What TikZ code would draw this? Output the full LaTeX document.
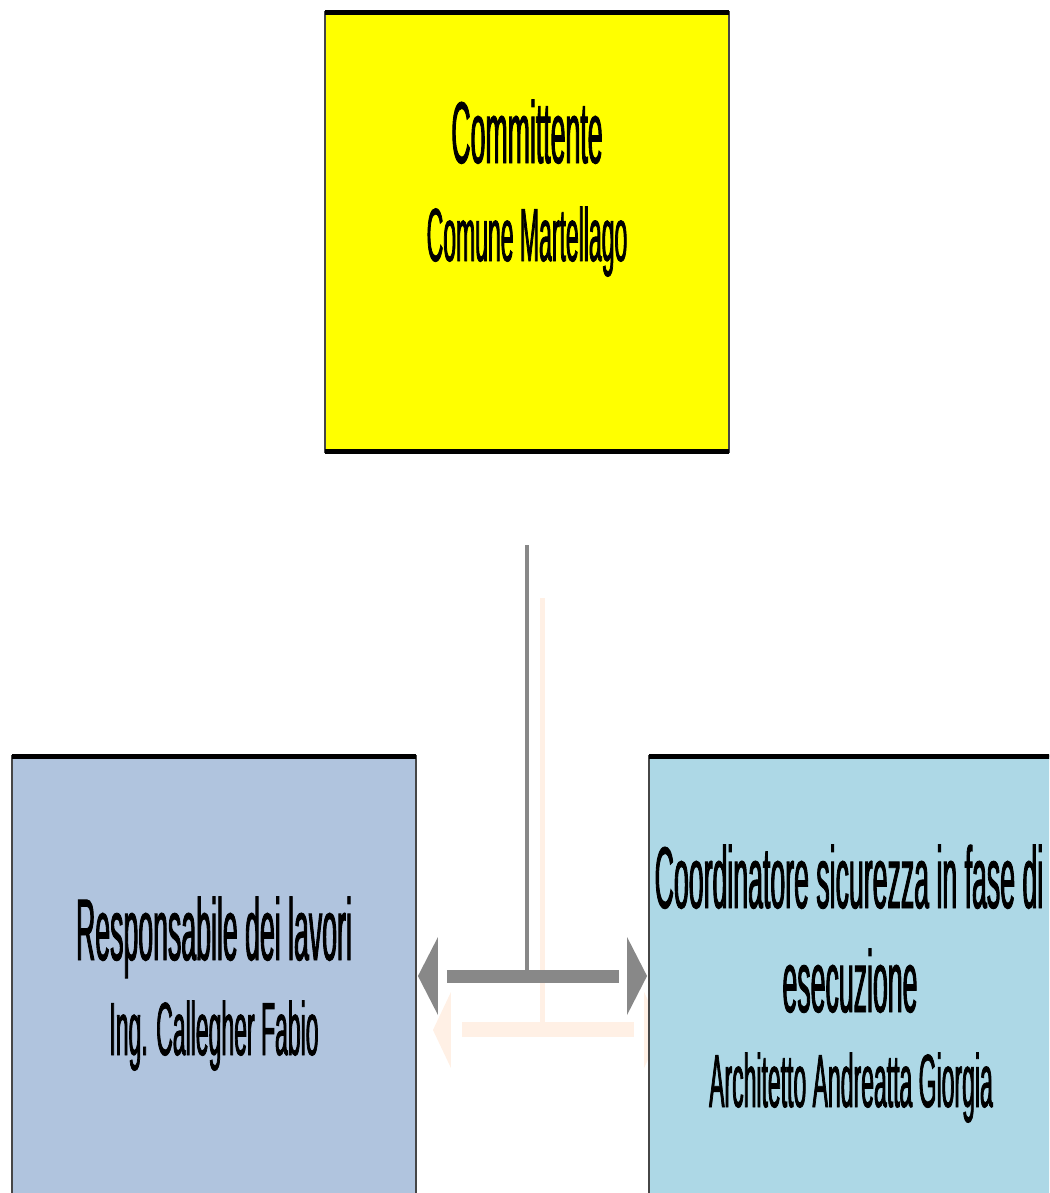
\documentclass[tikz,border=0pt]{standalone}
\usepackage{fontspec}
\setmainfont[FakeStretch=0.305,FakeBold=1]{Liberation Sans}
\usetikzlibrary{backgrounds}
\definecolor{boxyellow}{RGB}{255,255,0}
\definecolor{steelblue}{RGB}{176,196,222}
\definecolor{paleblue}{RGB}{173,216,230}
\definecolor{linkgray}{RGB}{136,136,136}
\definecolor{ghostpeach}{RGB}{255,240,229}
\definecolor{sidegray}{RGB}{70,70,70}
\tikzset{
  role/.style={draw=sidegray, line width=0.05cm, minimum width=8.08cm,
    minimum height=8.8cm, inner sep=0pt, outer sep=0pt},
  rim/.style={draw=black, line width=0.1cm},
  title/.style={anchor=base, inner sep=0pt, font=\fontsize{49.8pt}{60pt}\selectfont},
  person/.style={anchor=base, inner sep=0pt, font=\fontsize{42.9pt}{52pt}\selectfont},
  link/.style={draw=linkgray},
  ghost/.style={draw=ghostpeach},
}
\begin{document}
\begin{tikzpicture}[x=0.02cm,y=-0.02cm]
  \useasboundingbox (0,0) rectangle (1049,1193);
  \clip (0,0) rectangle (1049,1193);
  % boxes
  \node[role, fill=boxyellow] (committente) at (527,232) {};
  \node[role, fill=steelblue] (responsabile) at (214,976) {};
  \node[role, fill=paleblue] (coordinatore) at (851,976) {};
  \draw[rim] (committente.north west) -- (committente.north east);
  \draw[rim] (committente.south west) -- (committente.south east);
  \draw[rim] (responsabile.north west) -- (responsabile.north east);
  \draw[rim] (coordinatore.north west) -- (coordinatore.north east);
  % texts
  \node[title] (committente-title) at (527,163) {Committente};
  \node[person] (committente-name) at (527,261) {Comune Martellago};
  \node[title] (responsabile-title) at (214,960) {Responsabile dei lavori};
  \node[person] (responsabile-name) at (214,1055) {Ing. Callegher Fabio};
  \node[title] (coordinatore-title) at (849,908) {Coordinatore sicurezza in fase di};
  \node[title] (coordinatore-title2) at (850,1012) {esecuzione};
  \node[person] (coordinatore-name) at (851,1107) {Architetto Andreatta Giorgia};
  % connectors
  \coordinate (feed) at (527,545);
  \coordinate (hub) at (feed |- responsabile.east);
  \draw[link, line width=0.09cm] (feed) -- (hub);
  \draw[link, line width=0.26cm, shorten <=0.62cm, shorten >=0.6cm]
    (responsabile.east) -- (coordinatore.west);
  \fill[linkgray] ([xshift=0.04cm]responsabile.east) -- ++(20,-39) -- ++(0,78) -- cycle;
  \fill[linkgray] ([xshift=-0.04cm]coordinatore.west) -- ++(-20,-39) -- ++(0,78) -- cycle;
  % faint shadow of the connectors
  \begin{scope}[on background layer]
    \draw[ghost, line width=0.1cm] ([shift={(15,53)}]feed) -- ([shift={(15,53)}]hub);
    \draw[ghost, line width=0.3cm, shorten <=0.62cm, shorten >=0.6cm]
      ([shift={(15,53)}]responsabile.east) -- ([shift={(15,53)}]coordinatore.west);
    \fill[ghostpeach] ([shift={(17,54)}]responsabile.east) -- ++(18,-38) -- ++(0,76) -- cycle;
    \fill[ghostpeach] ([shift={(13,54)}]coordinatore.west) -- ++(-18,-38) -- ++(0,76) -- cycle;
  \end{scope}
\end{tikzpicture}
\end{document}
